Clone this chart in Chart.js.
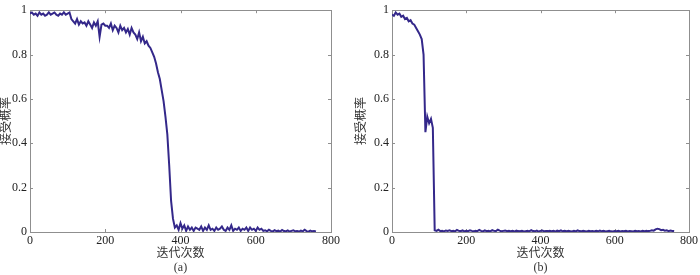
<!DOCTYPE html>
<html>
<head>
<meta charset="utf-8">
<script src="https://cdn.jsdelivr.net/npm/chart.js@4/dist/chart.umd.min.js"></script>
<style>
  html, body { margin: 0; padding: 0; background: #fff; }
  .panel { position: absolute; top: 0; }
</style>
</head>
<body>
<canvas id="chartA" class="panel" width="350" height="275" style="left:0px"></canvas>
<canvas id="chartB" class="panel" width="350" height="275" style="left:350px"></canvas>
<script>
// iteration counter sampled every 5 iterations (0 .. 760)
const iterStep = 5;
const xTicks = [0, 200, 400, 600, 800];
const yTicks = [0, 0.2, 0.4, 0.6, 0.8, 1];
const xLabel = '迭代次数';
const yLabel = '接受概率';
const captions = ['(a)', '(b)'];

// acceptance probability, run (a)
const acceptA = [
  0.985, 0.99, 0.98, 0.985, 0.975, 0.99, 0.98, 0.985, 0.975, 0.98, 0.99, 0.98, 0.985, 0.99, 0.98, 0.975, 0.985, 0.98, 0.99, 0.98, 0.985, 0.99,
  0.96, 0.95, 0.94, 0.96, 0.935, 0.95, 0.94, 0.945, 0.93, 0.95, 0.935, 0.92, 0.945, 0.93, 0.95, 0.88, 0.935, 0.94, 0.93,
  0.93, 0.92, 0.94, 0.91, 0.93, 0.92, 0.90, 0.93, 0.91, 0.92, 0.90, 0.915, 0.89, 0.92, 0.90, 0.89,
  0.87, 0.90, 0.86, 0.88, 0.85, 0.86, 0.84,
  0.83, 0.81, 0.79, 0.76, 0.72, 0.69, 0.64, 0.59, 0.52, 0.44, 0.30, 0.14, 0.06, 0.02,
  0.03, 0.01, 0.04, 0.015, 0.03, 0.005, 0.025, 0.01, 0.02, 0.005,
  0.02, 0.015, 0.01, 0.025, 0.005, 0.02, 0.01, 0.03, 0.01, 0.015,
  0.005, 0.02, 0.01, 0.015, 0.025, 0.01, 0.005, 0.02, 0.01, 0.03,
  0.005, 0.015, 0.01, 0.02, 0.005, 0.015, 0.01, 0.02, 0.005, 0.02,
  0.01, 0.015, 0.005, 0.02, 0.01, 0.015, 0.005,
  0.008, 0.003, 0.01, 0.005, 0.002, 0.008, 0.004, 0.006, 0.002, 0.009,
  0.004, 0.003, 0.007, 0.002, 0.005, 0.008, 0.003, 0.004, 0.002, 0.006,
  0.003, 0.01, 0.004, 0.002, 0.006, 0.003, 0.004, 0.002
];

// acceptance probability, run (b)
const acceptB = [
  0.98, 0.975, 0.99, 0.98, 0.985, 0.97, 0.975, 0.96, 0.965, 0.95, 0.955, 0.94, 0.935, 0.92, 0.905, 0.89, 0.87, 0.80,
  0.45, 0.52, 0.49, 0.51, 0.47,
  0.008, 0.005, 0.01, 0.004, 0.006, 0.003, 0.007, 0.005, 0.008, 0.004,
  0.006, 0.003, 0.009, 0.005, 0.004, 0.007, 0.003, 0.006, 0.004, 0.008,
  0.005, 0.003, 0.006, 0.004, 0.009, 0.005, 0.003, 0.007, 0.004, 0.006,
  0.003, 0.008, 0.005, 0.004, 0.01, 0.006, 0.003, 0.005, 0.007, 0.004,
  0.006, 0.003, 0.005, 0.002, 0.006, 0.004, 0.003, 0.005, 0.002, 0.004,
  0.006, 0.003, 0.008, 0.004, 0.003, 0.006, 0.002, 0.005, 0.007, 0.003,
  0.005, 0.004, 0.006, 0.003, 0.005, 0.002, 0.006, 0.004, 0.007, 0.003,
  0.005, 0.003, 0.006, 0.004, 0.002, 0.005, 0.003, 0.007, 0.004, 0.003,
  0.006, 0.004, 0.002, 0.005, 0.003, 0.004, 0.002, 0.005, 0.003, 0.006,
  0.003, 0.005, 0.002, 0.004, 0.006, 0.003, 0.002, 0.004, 0.003, 0.005,
  0.002, 0.004, 0.003, 0.005, 0.002, 0.004, 0.003, 0.002, 0.005, 0.003,
  0.004, 0.002, 0.005, 0.003, 0.006, 0.004, 0.005, 0.008, 0.006, 0.012,
  0.015, 0.013, 0.008, 0.01, 0.006, 0.008, 0.004, 0.007, 0.005, 0.004
];

const serif = 'Liberation Serif, Noto Sans CJK SC, serif';
const frameColor = '#8f8f8f';

// box around the plot with matlab style inward ticks
const framePlugin = {
  id: 'frame',
  beforeDatasetsDraw(chart) {
    const {ctx, chartArea: a} = chart;
    const x = chart.scales.x, y = chart.scales.y;
    ctx.save();
    ctx.strokeStyle = frameColor;
    ctx.lineWidth = 1;
    ctx.strokeRect(Math.round(a.left) + 0.5, Math.round(a.top) + 0.5,
      Math.round(a.right - a.left), Math.round(a.bottom - a.top));
    ctx.beginPath();
    x.ticks.forEach(t => {
      const px = Math.round(x.getPixelForValue(t.value)) + 0.5;
      ctx.moveTo(px, a.bottom); ctx.lineTo(px, a.bottom - 3);
      ctx.moveTo(px, a.top); ctx.lineTo(px, a.top + 3);
    });
    y.ticks.forEach(t => {
      const py = Math.round(y.getPixelForValue(t.value)) + 0.5;
      ctx.moveTo(a.left, py); ctx.lineTo(a.left + 3, py);
      ctx.moveTo(a.right, py); ctx.lineTo(a.right - 3, py);
    });
    ctx.stroke();
    ctx.restore();
  }
};

function makeChart(id, values, caption, pad, yWidth) {
  const pts = values.map((v, i) => ({x: i * iterStep, y: v}));
  return new Chart(document.getElementById(id), {
    type: 'line',
    data: {
      datasets: [{
        data: pts,
        borderColor: '#34288a',
        borderWidth: 2,
        pointRadius: 0,
        tension: 0,
        fill: false
      }]
    },
    options: {
      responsive: false,
      animation: false,
      devicePixelRatio: 1,
      layout: {padding: pad},
      plugins: {legend: {display: false}, tooltip: {enabled: false}},
      scales: {
        x: {
          type: 'linear',
          min: xTicks[0],
          max: xTicks[xTicks.length - 1],
          afterBuildTicks: s => { s.ticks = xTicks.map(v => ({value: v})); },
          afterFit: s => { s.height = 43; },
          grid: {display: false, drawTicks: false},
          border: {display: false},
          ticks: {padding: 2, color: '#222', font: {family: serif, size: 12}, maxRotation: 0,
                  callback: v => String(v)},
          title: {
            display: true,
            text: [xLabel, caption],
            color: '#333',
            padding: 0,
            font: {family: serif, size: 12, lineHeight: 1.15}
          }
        },
        y: {
          min: 0,
          max: 1,
          afterBuildTicks: s => { s.ticks = yTicks.map(v => ({value: v})); },
          afterFit: s => { s.width = yWidth; },
          grid: {display: false, drawTicks: false},
          border: {display: false},
          ticks: {padding: 3, color: '#222', font: {family: serif, size: 12},
                  callback: v => String(v)},
          title: {
            display: true,
            text: yLabel,
            color: '#333',
            padding: 0,
            font: {family: serif, size: 12}
          }
        }
      }
    },
    plugins: [framePlugin]
  });
}

makeChart('chartA', acceptA, captions[0], {left: 0, right: 19, top: 5, bottom: 0}, 30);
makeChart('chartB', acceptB, captions[1], {left: 5, right: 8, top: 5, bottom: 0}, 37);
</script>
</body>
</html>
